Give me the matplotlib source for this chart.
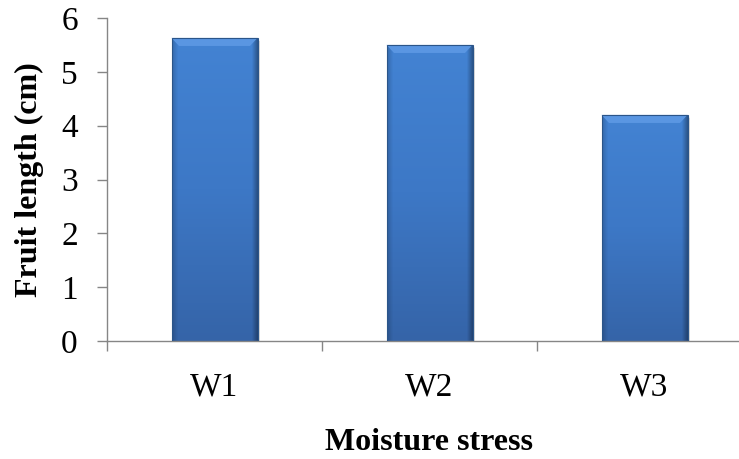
import numpy as np
import matplotlib.pyplot as plt
from matplotlib.patches import Polygon
from matplotlib.colors import LinearSegmentedColormap

# datos
categorias = ['W1', 'W2', 'W3']
longitud = [5.63, 5.50, 4.20]

plt.rcParams['font.family'] = ['Liberation Serif', 'DejaVu Serif']

fig = plt.figure(figsize=(7.39, 4.59), dpi=100)
ax = fig.add_axes([107 / 739, 1 - 341 / 459, 645 / 739, 323 / 459])

x = np.arange(len(categorias))
ancho = 0.4
barras = ax.bar(x, longitud, width=ancho, color='#3D78C6',
                edgecolor='#2B5589', linewidth=0.8, zorder=2)

# degradado vertical y bordes laterales dentro de cada barra
cmap_v = LinearSegmentedColormap.from_list('v', ['#3564A8', '#3D78C6', '#4383D3'])
cmap_h = LinearSegmentedColormap.from_list(
    'h', [(0.0, (0, 0, 0, 0.18)), (0.07, (0, 0, 0, 0.0)),
          (0.93, (0, 0, 0, 0.0)), (1.0, (0, 0, 0, 0.35))])
for b in barras:
    x0, w, h = b.get_x(), b.get_width(), b.get_height()
    grad = np.linspace(0, 1, 256).reshape(-1, 1)
    im = ax.imshow(grad, cmap=cmap_v, extent=(x0, x0 + w, 0, h),
                   origin='lower', aspect='auto', zorder=2.1)
    im.set_clip_path(b)
    lado = np.linspace(0, 1, 256).reshape(1, -1)
    lado = np.concatenate([lado, lado])
    im2 = ax.imshow(lado, cmap=cmap_h, extent=(x0, x0 + w, 0, h),
                    origin='lower', aspect='auto', zorder=2.2,
                    interpolation='bilinear')
    im2.set_clip_path(b)
    # bisel superior
    dx, dy = 0.035, 0.15
    ax.add_patch(Polygon([(x0, h), (x0 + w, h), (x0 + w - dx, h - dy), (x0 + dx, h - dy)],
                         closed=True, facecolor='#5A96E2', edgecolor='none', zorder=2.3))
    ax.add_patch(Polygon([(x0, h), (x0 + w, h), (x0 + w, h - 0.025), (x0, h - 0.025)],
                         closed=True, facecolor='#6EA6EA', edgecolor='none', zorder=2.4))
    # sombra a la derecha
    ax.add_patch(Polygon([(x0 + w, h - 0.03), (x0 + w, 0), (x0 + w + 0.012, 0),
                          (x0 + w + 0.012, h - 0.05)],
                         closed=True, facecolor='#DADADA', edgecolor='none', zorder=1.5))
    b.set_facecolor('none')
    b.set_zorder(3)

ax.set_xlim(-0.5, 2.5)
ax.set_ylim(0, 6)
ax.set_yticks(range(0, 7))

# marcas entre categorias, etiquetas en el centro
ax.set_xticks([-0.5, 0.5, 1.5, 2.5])
ax.set_xticklabels([])
ax.set_xticks(x, minor=True)
ax.set_xticklabels(categorias, minor=True)
ax.tick_params(axis='x', which='minor', length=0, pad=22, labelsize=24)
ax.tick_params(axis='x', which='major', length=7, width=1, color='#868686', direction='out')
ax.tick_params(axis='y', length=7, width=1, color='#868686', direction='out',
               pad=14, labelsize=24)

for s in ['top', 'right']:
    ax.spines[s].set_visible(False)
for s in ['left', 'bottom']:
    ax.spines[s].set_color('#868686')
    ax.spines[s].set_linewidth(1)

ax.set_ylabel('Fruit length (cm)', fontsize=23, fontweight='bold', labelpad=12)
fig.text(429 / 739, 1 - 443 / 459, 'Moisture stress', fontsize=23, fontweight='bold',
         ha='center', va='center')

fig.savefig('out.png', dpi=100)
